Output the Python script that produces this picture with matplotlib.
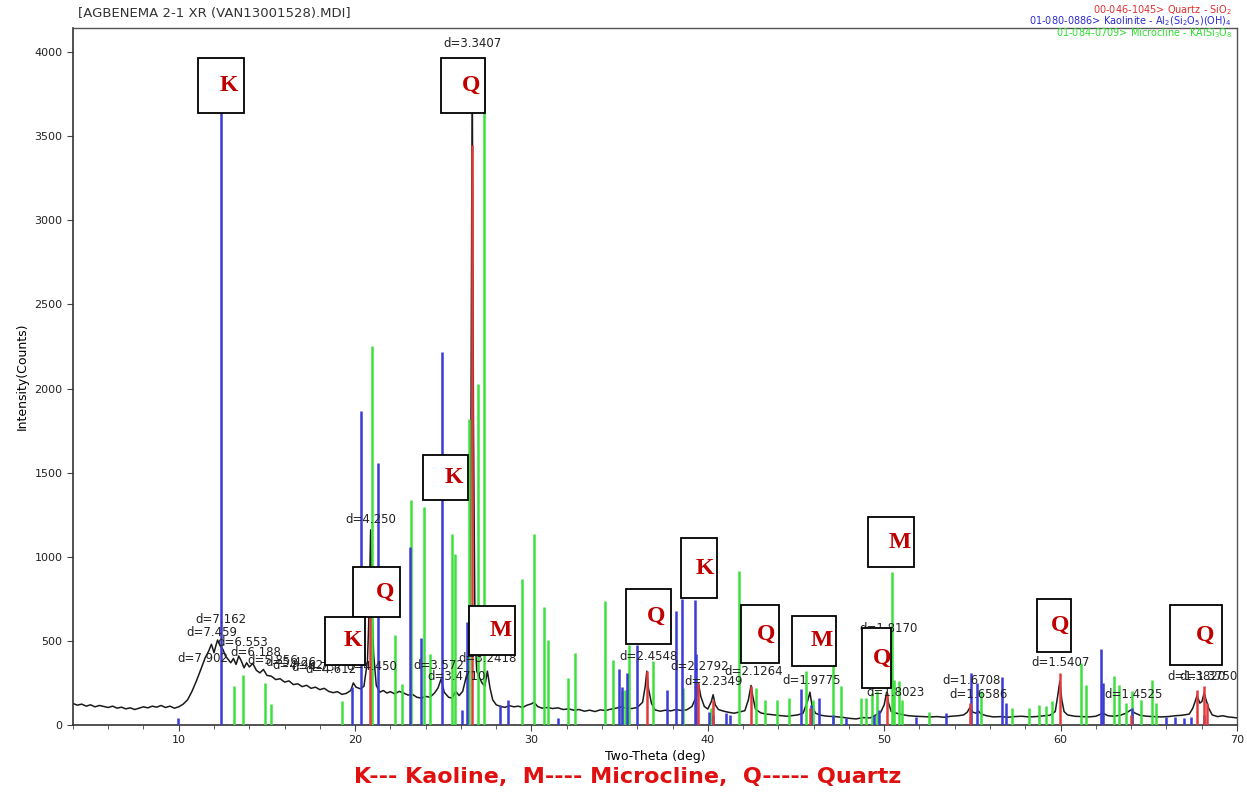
import numpy as np
import matplotlib
matplotlib.use("Agg")
import matplotlib.pyplot as plt
from matplotlib.patches import Rectangle
from matplotlib.ticker import MultipleLocator

two_theta = [
    4.0, 4.25, 4.5, 4.75, 5.0, 5.25, 5.5, 5.75, 6.0, 6.25, 6.5, 6.75, 7.0, 7.25, 7.5, 7.75,
    8.0, 8.25, 8.5, 8.75, 9.0, 9.25, 9.5, 9.75, 10.0, 10.25, 10.5, 10.75, 11.0, 11.25, 11.5,
    11.7, 11.85, 12.0, 12.1, 12.2, 12.35, 12.5, 12.65, 12.8, 12.95, 13.1, 13.25, 13.4, 13.55,
    13.7, 13.85, 14.0, 14.2, 14.4, 14.6, 14.8, 15.0, 15.25, 15.5, 15.75, 16.0, 16.25, 16.5,
    16.75, 17.0, 17.25, 17.5, 17.75, 18.0, 18.25, 18.5, 18.75, 19.0, 19.25, 19.5, 19.75, 19.9,
    20.05, 20.3, 20.5, 20.7, 20.8, 20.88, 20.96, 21.05, 21.2, 21.4, 21.6, 21.8, 22.0, 22.25,
    22.5, 22.75, 23.0, 23.25, 23.5, 23.75, 24.0, 24.25, 24.5, 24.7, 24.88, 25.05, 25.3, 25.5,
    25.7, 25.9, 26.1, 26.25, 26.4, 26.5, 26.57, 26.64, 26.71, 26.8, 26.9, 27.05, 27.2, 27.35,
    27.5, 27.65, 27.8, 28.0, 28.25, 28.5, 28.75, 29.0, 29.25, 29.5, 29.75, 30.0, 30.15, 30.35,
    30.6, 30.9, 31.2, 31.5, 31.8, 32.1, 32.4, 32.7, 33.0, 33.3, 33.6, 33.9, 34.2, 34.5, 34.8,
    35.1, 35.4, 35.7, 36.0, 36.3, 36.45, 36.54, 36.63, 36.8, 37.0, 37.3, 37.6, 37.9, 38.2,
    38.5, 38.8, 39.1, 39.35, 39.47, 39.6, 39.8, 40.0, 40.2, 40.3, 40.42, 40.6, 40.9, 41.2,
    41.5, 41.8, 42.1, 42.3, 42.45, 42.55, 42.7, 43.0, 43.3, 43.6, 43.9, 44.2, 44.5, 44.8,
    45.1, 45.4, 45.65, 45.79, 45.9, 46.1, 46.4, 46.8, 47.2, 47.6, 48.0, 48.4, 48.8, 49.2,
    49.5, 49.8, 50.0, 50.14, 50.25, 50.4, 50.7, 51.0, 51.4, 51.8, 52.2, 52.6, 53.0, 53.4,
    53.8, 54.2, 54.5, 54.7, 54.87, 55.0, 55.2, 55.35, 55.5, 55.8, 56.2, 56.6, 57.0, 57.4,
    57.8, 58.2, 58.6, 59.0, 59.4, 59.7, 59.85, 59.96, 60.07, 60.2, 60.4, 60.8, 61.2, 61.6,
    62.0, 62.4, 62.7, 63.0, 63.4, 63.7, 64.0, 64.2, 64.5, 64.9, 65.3, 65.7, 66.1, 66.5,
    66.9, 67.3, 67.5, 67.65, 67.74, 67.9, 68.02, 68.14, 68.25, 68.4, 68.6, 68.9, 69.2, 69.5,
    69.8, 70.0,
]
counts = [
    128, 118, 124, 112, 120, 108, 116, 110, 104, 112, 100, 106, 96, 102, 92, 100,
    108, 102, 112, 106, 116, 104, 112, 100, 108, 124, 150, 200, 262, 330, 400,
    440, 480, 430, 470, 505, 470, 450, 410, 390, 370, 395, 360, 410, 380,
    340, 370, 345, 365, 325, 310, 330, 295, 290, 270, 275, 255, 262, 240,
    245, 228, 236, 218, 225, 210, 218, 200, 192, 198, 182, 188, 205, 250,
    225, 215, 230, 380, 700, 1160, 700, 420, 235, 195, 205, 190, 198, 185,
    200, 190, 178, 182, 165, 160, 170, 165, 190, 220, 275, 195, 165, 160,
    200, 175, 200, 265, 330, 600, 1800, 3950, 1800, 520, 320, 280, 250, 230,
    320, 220, 150, 120, 110, 105, 115, 108, 112, 104, 118, 126, 135, 110,
    100, 104, 98, 102, 92, 96, 88, 92, 82, 88, 80, 90, 86, 94, 100,
    108, 100, 98, 104, 135, 230, 320, 220, 130, 90, 82, 88, 84, 92,
    86, 90, 110, 170, 245, 170, 110, 95, 140, 180, 120, 92, 82, 75,
    70, 78, 85, 150, 235, 170, 95, 72, 65, 62, 58, 55, 52, 56,
    60, 70, 140, 195, 120, 70, 58, 52, 50, 46, 40, 36, 44, 42,
    58, 75, 120, 195, 130, 80, 70, 62, 55, 52, 50, 48, 50, 46,
    52, 55, 60, 75, 105, 78, 70, 82, 65, 55, 48, 50, 46, 50,
    52, 48, 50, 54, 58, 80, 180, 260, 150, 80, 60, 52, 50, 48,
    52, 70, 55, 52, 58, 70, 90, 72, 58, 52, 50, 48, 50, 55,
    58, 65, 100, 145, 175, 130, 140, 190, 150, 100, 60, 50, 55, 48,
    45, 42,
]

# reference sticks: quartz (red), kaolinite (blue), microcline (green)
quartz_pos = [20.86, 26.64, 36.54, 39.47, 40.29, 42.45, 45.79, 50.14, 54.87, 59.96, 63.99,
              67.74, 68.14, 68.31]
quartz_int = [760, 3450, 323, 250, 150, 232, 100, 190, 130, 307, 60, 208, 232, 130]

kaol_pos = [9.93, 12.38, 19.83, 20.34, 21.28, 23.09, 23.75, 24.92, 26.05, 26.34, 28.22,
            28.68, 31.5, 34.96, 35.11, 35.39, 35.98, 37.71, 38.22, 38.51, 39.26, 39.32,
            40.05, 40.3, 41.05, 41.24, 45.30, 45.86, 46.33, 47.07, 47.84, 49.44, 49.73,
            51.8, 53.5, 54.92, 55.27, 56.69, 56.9, 62.27, 62.41, 64.05, 65.97, 66.5, 67.0,
            67.4, 68.12]
kaol_int = [40, 3970, 227, 1867, 1557, 1060, 520, 2216, 90, 615, 120,
            150, 40, 333, 228, 310, 475, 210, 680, 748, 743, 422,
            80, 60, 70, 60, 214, 120, 160, 60, 40, 60, 90,
            50, 70, 307, 250, 287, 130, 450, 250, 100, 50, 50, 40,
            50, 60]

micro_pos = [13.13, 13.66, 14.87, 15.25, 19.26, 20.98, 22.28, 22.66, 23.19, 23.92, 24.26,
             25.49, 25.68, 26.43, 26.99, 27.33, 29.45, 30.15, 30.71, 30.94, 32.07, 32.47,
             34.17, 34.62, 35.13, 35.3, 35.52, 36.9, 38.58, 40.2, 41.75, 42.75, 43.22,
             43.9, 44.63, 45.59, 45.94, 47.07, 47.56, 48.71, 48.99, 49.3, 49.6, 50.43, 50.58,
             50.86, 51.03, 52.56, 55.48, 57.26, 58.22, 58.78, 59.18, 59.52, 61.14, 61.43,
             63.03, 63.31, 63.69, 64.07, 64.54, 65.2, 65.39]
micro_int = [232, 297, 250, 122, 141, 2250, 535, 245, 1337, 1296, 420,
             1135, 1019, 1821, 2028, 3963, 867, 1135, 703, 505, 280, 430,
             739, 386, 200, 210, 475, 380, 220, 100, 917, 218, 150,
             150, 160, 323, 150, 397, 230, 160, 160, 190, 200, 911, 270,
             260, 150, 80, 200, 100, 100, 120, 110, 140, 370, 240,
             290, 240, 130, 200, 150, 270, 130]

# peak d-spacing labels: text, left x, y
d_labels = ["d=7.162", "d=7.459", "d=6.553", "d=7.902", "d=6.188", "d=5.856", "d=5.426",
            "d=4.962", "d=4.737", "d=4.612", "d=4.450", "d=4.250", "d=3.572", "d=3.4710",
            "d=3.2418", "d=2.4548", "d=2.2792", "d=2.2349", "d=2.1264", "d=1.9775",
            "d=1.8170", "d=1.8023", "d=1.6708", "d=1.6586", "d=1.5407", "d=1.4525",
            "d=1.3820", "d=1.3750"]
d_x = [10.96, 10.45, 12.21, 9.94, 12.94, 13.9, 14.9, 15.3, 16.4, 17.2, 19.5, 19.45, 23.30,
       24.09, 25.85, 34.96, 37.90, 38.69, 40.96, 44.24, 48.60, 48.99, 53.29, 53.69, 58.33,
       62.46, 66.03, 66.75]
d_y = [630, 549, 493, 398, 430, 386, 372, 352, 340, 330, 345, 1224, 351, 291, 398, 410,
       345, 257, 317, 267, 576, 192, 267, 184, 373, 184, 287, 287]

# phase boxes: letter, x0, x1, y0, y1
box_letter = ["K", "Q", "K", "Q", "K", "M", "Q", "K", "Q", "M", "Q", "M", "Q", "Q"]
box_x0 = [11.08, 24.88, 23.87, 19.90, 18.32, 26.47, 35.35, 38.46, 41.86, 44.75, 48.77, 49.11, 58.67, 66.20]
box_x1 = [13.68, 27.37, 26.41, 22.56, 20.58, 29.07, 37.90, 40.50, 44.01, 47.29, 50.41, 51.71, 60.59, 69.14]
box_y0 = [3637, 3637, 1337, 642, 357, 416, 481, 755, 368, 351, 220, 939, 434, 357]
box_y1 = [3964, 3964, 1605, 939, 642, 707, 808, 1111, 713, 648, 577, 1236, 749, 713]

fig = plt.figure(figsize=(12.47, 8), dpi=100)
ax = fig.add_axes([0.0585, 0.09375, 0.9334, 0.87125])

ax.plot(two_theta, counts, color="#1a1a1a", lw=1.1, zorder=2)
ax.vlines(micro_pos, 0, micro_int, color="#3ee03e", lw=1.8, zorder=3)
ax.vlines(kaol_pos, 0, kaol_int, color="#3b3bd6", lw=1.8, zorder=3)
ax.vlines(quartz_pos, 0, quartz_int, color="#e23a3a", lw=1.8, zorder=3)

ax.text(26.64, 4053, "d=3.3407", ha="center", va="center", fontsize=8.5, color="#222222", zorder=4)
for t, x, y in zip(d_labels, d_x, d_y):
    ax.text(x, y, t, ha="left", va="center", fontsize=8.5, color="#222222", zorder=4,
            clip_on=True)

for L, x0, x1, y0, y1 in zip(box_letter, box_x0, box_x1, box_y0, box_y1):
    ax.add_patch(Rectangle((x0, y0), x1 - x0, y1 - y0, facecolor="white",
                           edgecolor="black", lw=1.3, zorder=5))
    ax.text(x0 + 0.68 * (x1 - x0), (y0 + y1) / 2, L, ha="center", va="center",
            fontsize=17, fontweight="bold", family="Liberation Serif", color="#c00000", zorder=6)

ax.set_xlim(4, 70)
ax.set_ylim(0, 4143)
ax.xaxis.set_major_locator(MultipleLocator(10))
ax.xaxis.set_minor_locator(MultipleLocator(2))
ax.yaxis.set_major_locator(MultipleLocator(500))
ax.tick_params(labelsize=8, length=4, width=0.8, color="#444444", labelcolor="#222222")
ax.tick_params(which="minor", length=3, width=0.6, color="#444444")
for s in ["top", "right"]:
    ax.spines[s].set_color("#555555")
    ax.spines[s].set_linewidth(1.0)
for s in ["left", "bottom"]:
    ax.spines[s].set_color("#333333")
    ax.spines[s].set_linewidth(1.2)

ax.set_xlabel("Two-Theta (deg)", fontsize=9, labelpad=3)
ax.set_ylabel("Intensity(Counts)", fontsize=9, labelpad=4)

fig.text(78 / 1247, 1 - 14 / 800, "[AGBENEMA 2-1 XR (VAN13001528).MDI]", fontsize=9.5,
         color="#333333", ha="left", va="center")
fig.text(1232 / 1247, 1 - 10 / 800, "00-046-1045> Quartz - SiO$_2$", color="#e03030",
         fontsize=7, ha="right", va="center")
fig.text(1232 / 1247, 1 - 21 / 800, "01-080-0886> Kaolinite - Al$_2$(Si$_2$O$_5$)(OH)$_4$",
         color="#2b2bd0", fontsize=7, ha="right", va="center")
fig.text(1232 / 1247, 1 - 33 / 800, "01-084-0709> Microcline - KAlSi$_3$O$_8$",
         color="#30dd30", fontsize=7, ha="right", va="center")

fig.text(0.503, 1 - 777 / 800, "K--- Kaoline,  M---- Microcline,  Q----- Quartz",
         fontsize=16, fontweight="bold", color="#e01010", ha="center", va="center",
         family=["Liberation Sans Narrow", "DejaVu Sans"])

fig.savefig("out.png", dpi=100)
